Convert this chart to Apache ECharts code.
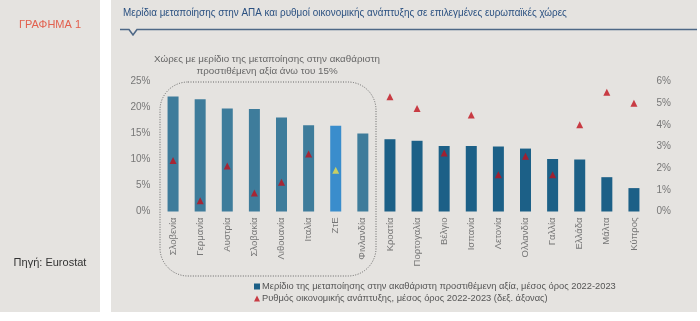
<!DOCTYPE html>
<html>
<head>
<meta charset="utf-8">
<script src="https://cdn.jsdelivr.net/npm/echarts@6/dist/echarts.min.js"></script>
<style>
  html, body { margin: 0; padding: 0; background: #ffffff; }
  #chart { width: 700px; height: 321px; }
</style>
</head>
<body>
<div id="chart"></div>
<script>
// Countries (ΖτΕ = Ζώνη του Ευρώ)
const countries = ['Σλοβενία', 'Γερμανία', 'Αυστρία', 'Σλοβακία', 'Λιθουανία', 'Ιταλία', 'ΖτΕ', 'Φινλανδία',
  'Κροατία', 'Πορτογαλία', 'Βέλγιο', 'Ισπανία', 'Λετονία', 'Ολλανδία', 'Γαλλία', 'Ελλάδα', 'Μάλτα', 'Κύπρος'];
// Manufacturing share of gross value added, average 2022-2023 (%)
const manufShare = [22.1, 21.6, 19.8, 19.7, 18.1, 16.6, 16.5, 15.0,
  13.9, 13.6, 12.6, 12.6, 12.5, 12.1, 10.1, 10.0, 6.6, 4.5];
// Real GDP growth, average 2022-2023 (%), right axis
const gdpGrowth = [2.35, 0.5, 2.1, 0.85, 1.35, 2.65, 1.9, null,
  5.3, 4.75, 2.7, 4.45, 1.7, 2.55, 1.7, 4.0, 5.5, 5.0];
// Axis ranges
const leftTicks = { min: 0, max: 25, step: 5 };
const rightTicks = { min: 0, max: 6, step: 1 };

const legendShare = 'Μερίδιο της μεταποίησης στην ακαθάριστη προστιθέμενη αξία, μέσος όρος 2022-2023';
const legendGrowth = 'Ρυθμός οικονομικής ανάπτυξης, μέσος όρος 2022-2023 (δεξ. άξονας)';
const highlightCount = 8;   // countries with share above 15% (first group)
const euroArea = 'ΖτΕ';

const FONT = '"Liberation Sans", Arial, sans-serif';
const panelBg = '#e5e3e0';

const barData = manufShare.map((v, i) => ({
  value: v,
  itemStyle: {
    color: countries[i] === euroArea ? '#3a8dcc' : (i < highlightCount ? '#3e7c9b' : '#1c6087')
  }
}));
const triData = gdpGrowth.map((v, i) => ({
  value: v,
  itemStyle: { color: countries[i] === euroArea ? '#ece04a' : '#c0101c' }
}));

const chart = echarts.init(document.getElementById('chart'), null, { renderer: 'canvas' });
chart.setOption({
  backgroundColor: '#ffffff',
  animation: false,
  textStyle: { fontFamily: FONT },
  graphic: [
    { type: 'rect', z: -10, shape: { x: 0, y: 0, width: 100, height: 312 }, style: { fill: panelBg } },
    { type: 'rect', z: -10, shape: { x: 111, y: 0, width: 586, height: 312 }, style: { fill: panelBg } },
    { type: 'text', x: 50, y: 25, style: { text: 'ΓΡΑΦΗΜΑ 1', fill: '#e2604e', font: '11px ' + FONT, align: 'center', verticalAlign: 'middle' } },
    { type: 'text', x: 50, y: 263, style: { text: 'Πηγή: Eurostat', fill: '#333333', font: '11px ' + FONT, align: 'center', verticalAlign: 'middle' } },
    { type: 'text', x: 123, y: 13, scaleX: 0.86, style: { text: 'Μερίδια μεταποίησης στην ΑΠΑ και ρυθμοί οικονομικής ανάπτυξης σε επιλεγμένες ευρωπαϊκές χώρες', fill: '#2a5080', font: '11.5px ' + FONT, verticalAlign: 'middle' } },
    { type: 'polyline', shape: { points: [[120, 29.5], [129, 29.5], [133, 35], [137, 29.5], [697, 29.5]] }, style: { stroke: '#4e6886', lineWidth: 1.6, fill: null } },
    { type: 'rect', z: -5, shape: { x: 160, y: 82, width: 216, height: 194, r: 28 }, style: { fill: null, stroke: '#666666', lineWidth: 1, lineDash: [1, 1.5] } },
    { type: 'text', x: 267, y: 59, style: { text: 'Χώρες με μερίδιο της μεταποίησης στην ακαθάριστη', fill: '#666666', font: '9.8px ' + FONT, align: 'center', verticalAlign: 'middle' } },
    { type: 'text', x: 267, y: 71, style: { text: 'προστιθέμενη αξία άνω του 15%', fill: '#666666', font: '9.8px ' + FONT, align: 'center', verticalAlign: 'middle' } }
  ],
  grid: { left: 159.5, right: 52.5, top: 81.5, bottom: 109.5, containLabel: false },
  legend: {
    orient: 'vertical',
    left: 254,
    top: 282,
    itemWidth: 6,
    itemHeight: 6,
    itemGap: 3,
    padding: 0,
    textStyle: { fontSize: 9.3, color: '#555555', fontFamily: FONT, padding: [0, 0, 0, -3] },
    data: [
      { name: legendShare, icon: 'rect', itemStyle: { color: '#1c6087' } },
      { name: legendGrowth, icon: 'triangle', itemStyle: { color: '#c0101c' } }
    ]
  },
  xAxis: {
    type: 'category',
    data: countries,
    axisLine: { show: false },
    axisTick: { show: false },
    axisLabel: { interval: 0, rotate: 90, fontSize: 9.5, color: '#777777', margin: 6, fontFamily: FONT }
  },
  yAxis: [
    {
      type: 'value', min: leftTicks.min, max: leftTicks.max, interval: leftTicks.step,
      splitLine: { show: false }, axisLine: { show: false }, axisTick: { show: false },
      axisLabel: { formatter: '{value}%', fontSize: 10, color: '#777777', margin: 9, fontFamily: FONT }
    },
    {
      type: 'value', min: rightTicks.min, max: rightTicks.max, interval: rightTicks.step,
      splitLine: { show: false }, axisLine: { show: false }, axisTick: { show: false },
      axisLabel: { formatter: '{value}%', fontSize: 10, color: '#777777', margin: 9, fontFamily: FONT }
    }
  ],
  series: [
    {
      name: legendShare, type: 'bar', yAxisIndex: 0, data: barData, barWidth: 11,
      itemStyle: { color: '#1c6087' }
    },
    {
      name: legendGrowth, type: 'scatter', yAxisIndex: 1, data: triData,
      symbol: 'triangle', symbolSize: 7, z: 5,
      itemStyle: { color: '#c0101c' }
    }
  ]
});
</script>
</body>
</html>
